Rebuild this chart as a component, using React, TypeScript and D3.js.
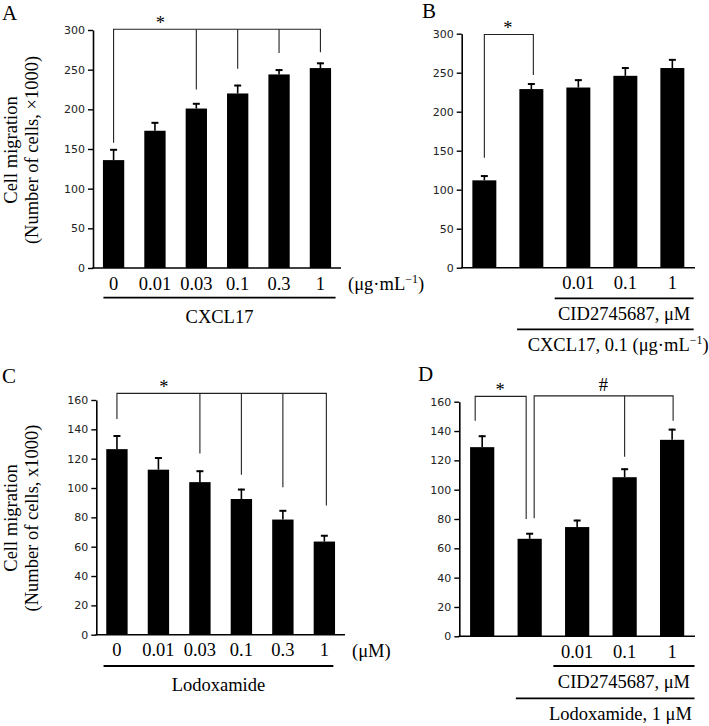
import React, { useEffect, useRef } from 'react';
import * as d3 from 'd3';

const W = 709;
const H = 726;
const SERIF = '"Liberation Serif", "Times New Roman", serif';
const SANS = '"DejaVu Sans", Verdana, sans-serif';

// ---- data ----
// A: CXCL17 dose response (ug/mL)
const catsA = ['0', '0.01', '0.03', '0.1', '0.3', '1'];
const meanA = [136, 173, 201, 220, 244, 252];
const semA = [14, 11, 7, 11, 6.5, 7];

// B: CID2745687 against CXCL17 0.1
const catsB = ['', '', '0.01', '0.1', '1'];
const meanB = [112, 229, 231, 246, 256];
const semB = [6.5, 7.5, 10.5, 11, 11.5];

// C: Lodoxamide dose response (uM)
const catsC = ['0', '0.01', '0.03', '0.1', '0.3', '1'];
const meanC = [126.5, 112.5, 104, 92.5, 78.5, 63.5];
const semC = [9.5, 8.5, 8, 7, 6.5, 4.5];

// D: CID2745687 against Lodoxamide 1 uM
const catsD = ['', '', '0.01', '0.1', '1'];
const meanD = [129, 66.5, 74.5, 108.5, 134];
const semD = [8, 4, 5, 6, 7.5];

// significance brackets: bar indices, where each drop ends, height of the bar
const bracketA = { bars: [0, 2, 3, 4, 5], ends: [158, 225, 251, 271, 272], top: 301, label: '*' };
const bracketB = { bars: [0, 1], ends: [141, 247], top: 299, label: '*' };
const bracketC = { bars: [0, 2, 3, 4, 5], ends: [147, 123.5, 109, 100.5, 88], top: 164.5, label: '*' };
const bracketD1 = { bars: [0, 1], ends: [147, 80], top: 163.6, label: '*' };
const bracketD2 = { bars: [1, 3, 4], ends: [80.5, 122.5, 147], top: 164, label: '#' };

type Seg = { t: string; sup?: boolean };
type Bracket = { bars: number[]; ends: number[]; top: number; label: string };
type Group = {
  from: number; to: number; label: Seg[];
  lineDy: number; textDy: number; l: number; r: number;
  anchor: 'start' | 'middle' | 'end'; tdx: number;
};
type Panel = {
  letter: string; lx: number; ly: number;
  x0: number; x1: number; yTop: number; yBottom: number; yMax: number; yStep: number;
  padIn: number; padOut: number;
  cats: string[]; means: number[]; sems: number[];
  brackets: { b: Bracket; dx: number[]; at: number }[];
  groups: Group[];
  unit?: Seg[];
  ylab?: { lines: string[]; cy: number };
};

const ugml: Seg[] = [{ t: '(μg·mL' }, { t: '−1', sup: true }, { t: ')' }];

const panels: Panel[] = [
  {
    letter: 'A', lx: 2, ly: 20,
    x0: 93, x1: 341, yTop: 30, yBottom: 268, yMax: 300, yStep: 50,
    padIn: 0.485, padOut: 0.24,
    cats: catsA, means: meanA, sems: semA,
    brackets: [{ b: bracketA, dx: [0, 0, 0, 0, 0], at: 1.13 }],
    groups: [{ from: 0, to: 5, label: [{ t: 'CXCL17' }], lineDy: 29.7, textDy: 55.3, l: 0.5, r: 4.5, anchor: 'middle', tdx: 0 }],
    unit: ugml,
    ylab: { lines: ['Cell migration', '(Number of cells, ×1000)'], cy: 150 },
  },
  {
    letter: 'B', lx: 422, ly: 18,
    x0: 461.7, x1: 695, yTop: 33.7, yBottom: 267.7, yMax: 300, yStep: 50,
    padIn: 0.49, padOut: 0.227,
    cats: catsB, means: meanB, sems: semB,
    brackets: [{ b: bracketB, dx: [0, 2], at: 0.5 }],
    groups: [
      { from: 2, to: 4, label: [{ t: 'CID2745687, μM' }], lineDy: 30.6, textDy: 52.5, l: -11.7, r: 9.3, anchor: 'middle', tdx: 0 },
      { from: 1, to: 4, label: [{ t: 'CXCL17, 0.1 ' }, ...ugml], lineDy: 61.6, textDy: 83.3, l: -2.3, r: 9.3, anchor: 'start', tdx: 10.6 },
    ],
  },
  {
    letter: 'C', lx: 2, ly: 383,
    x0: 96.3, x1: 345, yTop: 400, yBottom: 634.7, yMax: 160, yStep: 20,
    padIn: 0.485, padOut: 0.24,
    cats: catsC, means: meanC, sems: semC,
    brackets: [{ b: bracketC, dx: [0, 0, 0, 0, 2], at: 1.13 }],
    groups: [{ from: 0, to: 5, label: [{ t: 'Lodoxamide' }], lineDy: 31.3, textDy: 56, l: -2.7, r: -1.7, anchor: 'middle', tdx: 0 }],
    unit: [{ t: '(μM)' }],
    ylab: { lines: ['Cell migration', '(Number of cells, x1000)'], cy: 518 },
  },
  {
    letter: 'D', lx: 418, ly: 381,
    x0: 459.3, x1: 695, yTop: 401.7, yBottom: 636.3, yMax: 160, yStep: 20,
    padIn: 0.49, padOut: 0.227,
    cats: catsD, means: meanD, sems: semD,
    brackets: [
      { b: bracketD1, dx: [-7, -3.5], at: 0.45 },
      { b: bracketD2, dx: [4.5, 0, 1], at: 2.55 },
    ],
    groups: [
      { from: 2, to: 4, label: [{ t: 'CID2745687, μM' }], lineDy: 29.7, textDy: 52, l: -11.7, r: 10.3, anchor: 'middle', tdx: 0 },
      { from: 1, to: 4, label: [{ t: 'Lodoxamide, 1 μM' }], lineDy: 62, textDy: 83.5, l: -1.7, r: 10.3, anchor: 'end', tdx: -2.6 },
    ],
  },
];

function addSegs(text: any, segs: Seg[]) {
  segs.forEach((s, i) => {
    const prevSup = i > 0 && segs[i - 1].sup;
    const ts = text.append('tspan').text(s.t);
    if (s.sup) ts.attr('dy', -7).style('font-size', '12px');
    else if (prevSup) ts.attr('dy', 7);
  });
}

function drawPanel(svg: any, p: Panel) {
  const g = svg.append('g');
  const n = p.means.length;
  const y = d3.scaleLinear().domain([0, p.yMax]).range([p.yBottom, p.yTop]);
  const x = d3.scaleBand<number>().domain(d3.range(n)).range([p.x0, p.x1])
    .paddingInner(p.padIn).paddingOuter(p.padOut);
  const bw = x.bandwidth();
  const cx = (i: number) => (x(0) as number) + bw / 2 + i * x.step();

  // bars
  g.selectAll('rect.bar').data(p.means).join('rect')
    .attr('class', 'bar')
    .attr('x', (_: number, i: number) => x(i))
    .attr('y', (d: number) => y(d))
    .attr('width', bw)
    .attr('height', (d: number) => y(0) - y(d))
    .attr('fill', '#000');

  // error bars (upper half only)
  const eb = g.selectAll('g.err').data(p.means).join('g').attr('class', 'err');
  eb.append('line')
    .attr('x1', (_: number, i: number) => cx(i)).attr('x2', (_: number, i: number) => cx(i))
    .attr('y1', (d: number) => y(d)).attr('y2', (d: number, i: number) => y(d + p.sems[i]))
    .attr('stroke', '#000').attr('stroke-width', 1.6);
  eb.append('line')
    .attr('x1', (_: number, i: number) => cx(i) - 3.5).attr('x2', (_: number, i: number) => cx(i) + 3.5)
    .attr('y1', (d: number, i: number) => y(d + p.sems[i]) + 0.8)
    .attr('y2', (d: number, i: number) => y(d + p.sems[i]) + 0.8)
    .attr('stroke', '#000').attr('stroke-width', 2);

  // y axis
  const ax = g.append('g').attr('transform', `translate(${p.x0},0)`)
    .call(d3.axisLeft(y).tickValues(d3.range(0, p.yMax + 1, p.yStep)).tickSize(5).tickSizeOuter(0).tickPadding(3));
  ax.select('.domain').attr('stroke', '#000').attr('stroke-width', 1.6);
  ax.selectAll('.tick line').attr('stroke', '#000').attr('stroke-width', 1.4);
  ax.selectAll('.tick text')
    .style('font-family', SANS).style('font-size', '11px').attr('fill', '#222');

  // x axis line
  g.append('line').attr('x1', p.x0 - 0.8).attr('x2', p.x1).attr('y1', y(0)).attr('y2', y(0))
    .attr('stroke', '#000').attr('stroke-width', 1.6);

  // category labels
  g.selectAll('text.cat').data(p.cats).join('text')
    .attr('class', 'cat')
    .attr('x', (_: string, i: number) => cx(i))
    .attr('y', y(0) + 21.5)
    .attr('text-anchor', 'middle')
    .style('font-family', SERIF).style('font-size', '18.5px')
    .text((d: string) => d);

  if (p.unit) {
    const t = g.append('text').attr('x', p.x1 + 7).attr('y', y(0) + 22)
      .style('font-family', SERIF).style('font-size', '18.5px');
    addSegs(t, p.unit);
  }

  // grouping lines + labels
  p.groups.forEach(gr => {
    const lx0 = (x(gr.from) as number) + gr.l;
    const lx1 = (x(gr.to) as number) + bw + gr.r;
    g.append('line').attr('x1', lx0).attr('x2', lx1)
      .attr('y1', y(0) + gr.lineDy).attr('y2', y(0) + gr.lineDy)
      .attr('stroke', '#000').attr('stroke-width', 1.8);
    const tx = gr.anchor === 'start' ? lx0 : gr.anchor === 'end' ? lx1 : (lx0 + lx1) / 2;
    const t = g.append('text').attr('x', tx + gr.tdx).attr('y', y(0) + gr.textDy)
      .attr('text-anchor', gr.anchor)
      .style('font-family', SERIF).style('font-size', '18.5px');
    addSegs(t, gr.label);
  });

  // significance brackets
  p.brackets.forEach(({ b, dx, at }) => {
    const xs = b.bars.map((bi, k) => cx(bi) + dx[k]);
    const yt = y(b.top);
    const last = xs.length - 1;
    g.append('path')
      .attr('d', `M${xs[0]},${y(b.ends[0])}V${yt}H${xs[last]}V${y(b.ends[last])}`)
      .attr('fill', 'none').attr('stroke', '#222').attr('stroke-width', 1.1);
    for (let k = 1; k < last; k++) {
      g.append('line').attr('x1', xs[k]).attr('x2', xs[k]).attr('y1', yt).attr('y2', y(b.ends[k]))
        .attr('stroke', '#222').attr('stroke-width', 1.1);
    }
    g.append('text')
      .attr('x', cx(at) + (b.label === '*' ? dx[0] * 0.5 : 0))
      .attr('y', b.label === '*' ? yt - 0.5 : yt - 5)
      .attr('text-anchor', 'middle')
      .style('font-family', SERIF).style('font-size', '18.5px')
      .text(b.label);
  });

  // y axis title
  if (p.ylab) {
    const xs = [16.5, 37.5];
    p.ylab.lines.forEach((s, i) => {
      g.append('text')
        .attr('transform', `translate(${xs[i]},${p.ylab!.cy}) rotate(-90)`)
        .attr('text-anchor', 'middle')
        .style('font-family', SERIF).style('font-size', '18.5px')
        .text(s);
    });
  }

  // panel letter
  g.append('text').attr('x', p.lx).attr('y', p.ly)
    .style('font-family', SERIF).style('font-size', '21px')
    .text(p.letter);
}

const App = () => {
  const svgRef = useRef<SVGSVGElement>(null);

  useEffect(() => {
    const svg = d3.select(svgRef.current);
    svg.selectAll('*').remove();
    panels.forEach(p => drawPanel(svg, p));
  }, []);

  return (
    <svg
      ref={svgRef}
      width={W}
      height={H}
      style={{ position: 'absolute', left: 0, top: 0, background: '#fff' }}
    />
  );
};

export default App;
